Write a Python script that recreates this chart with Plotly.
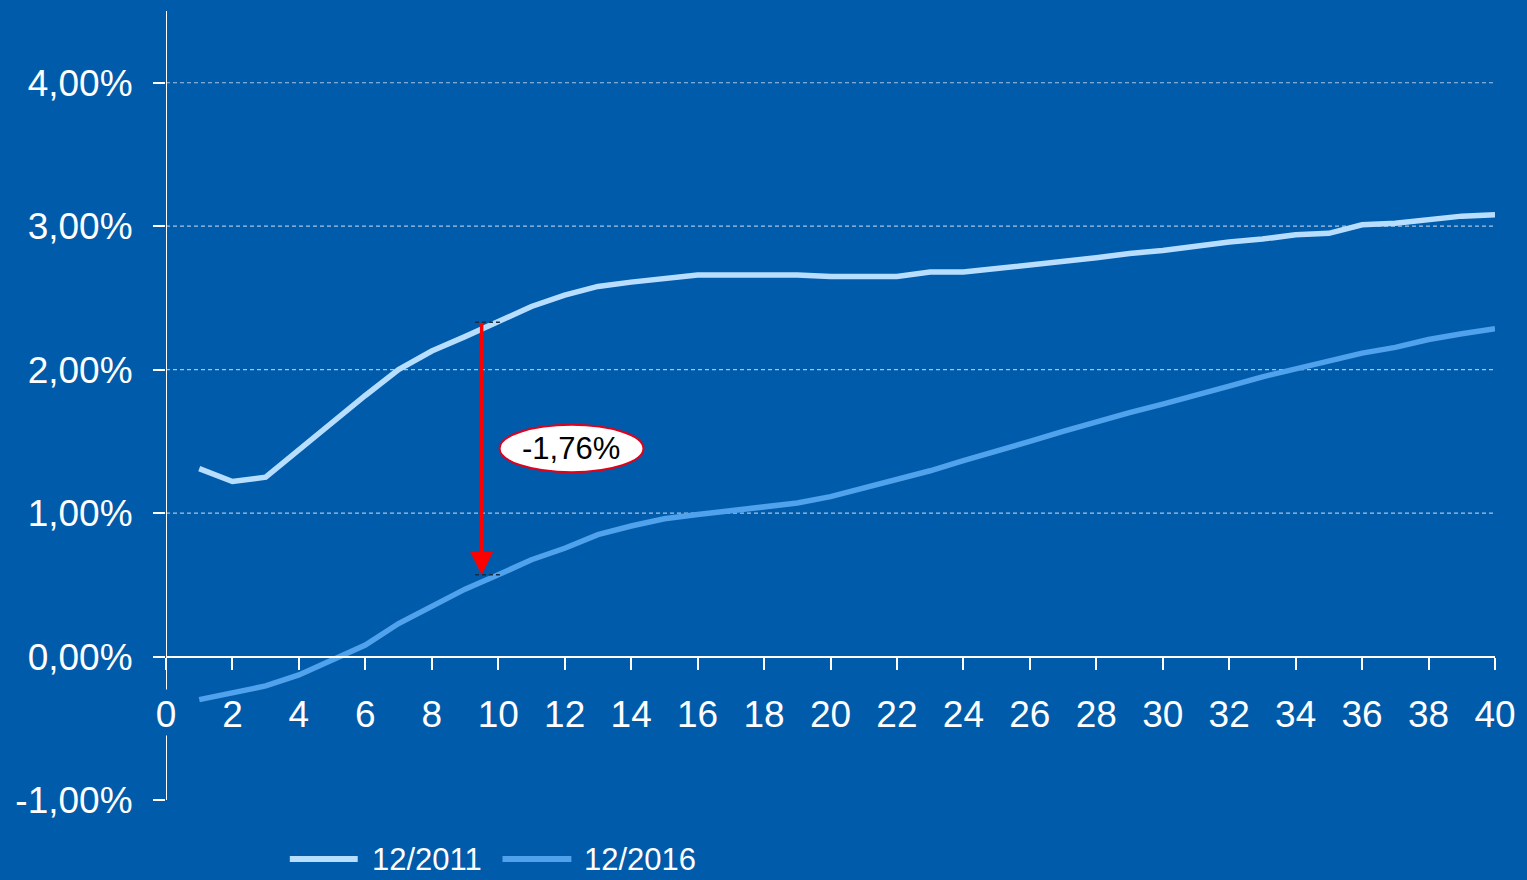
import plotly.graph_objects as go

# ---- data ----
maturities = list(range(1, 41))
curve_2011 = [1.31, 1.22, 1.25, 1.44, 1.64, 1.82, 2.00, 2.13, 2.23, 2.33,
              2.44, 2.52, 2.58, 2.61, 2.635, 2.66, 2.66, 2.66, 2.66, 2.65,
              2.65, 2.65, 2.68, 2.68, 2.705, 2.73, 2.75, 2.78, 2.81, 2.83,
              2.86, 2.89, 2.91, 2.94, 2.95, 3.01, 3.02, 3.045, 3.07, 3.08]
curve_2016 = [-0.30, -0.255, -0.205, -0.128, -0.02, 0.08, 0.23, 0.35, 0.47, 0.57,
              0.675, 0.755, 0.85, 0.91, 0.96, 0.99, 1.015, 1.04, 1.07, 1.115,
              1.175, 1.235, 1.295, 1.365, 1.43, 1.50, 1.57, 1.64, 1.70, 1.76,
              1.82, 1.885, 1.95, 2.005, 2.06, 2.115, 2.155, 2.21, 2.25, 2.285]
series_names = ["12/2011", "12/2016"]
y_tickvals = [-1, 0, 1, 2, 3, 4]
y_ticktext = ["-1,00%", "0,00%", "1,00%", "2,00%", "3,00%", "4,00%"]
x_tickvals = list(range(0, 41, 2))
gap_label = "-1,76%"
gap_x = 9.5
gap_from = 2.33
gap_to = 0.57

BG = "#005BAA"
C2011 = "#B8DEFF"
C2016 = "#4FA2EB"
FONT = "Liberation Sans, Arial, sans-serif"

fig = go.Figure()
fig.add_trace(go.Scatter(x=maturities, y=curve_2011, mode="lines", name=series_names[0],
                         line=dict(color=C2011, width=5.5), showlegend=False))
fig.add_trace(go.Scatter(x=maturities, y=curve_2016, mode="lines", name=series_names[1],
                         line=dict(color=C2016, width=5.5), showlegend=False))

shapes = []
# dashed grid lines
for v in y_tickvals:
    if v > 0:
        shapes.append(dict(type="line", xref="x", yref="y", x0=0, x1=40, y0=v, y1=v,
                           line=dict(color="#A9C3E3", width=1.2, dash="4px,3px"), layer="below"))
# y axis line (interrupted by x tick labels)
shapes.append(dict(type="line", xref="x", yref="y", x0=0, x1=0, y0=-0.23, y1=4.5,
                   line=dict(color="white", width=2)))
shapes.append(dict(type="line", xref="x", yref="y", x0=0, x1=0, y0=-1, y1=-0.55,
                   line=dict(color="white", width=2)))
# small dark dashed marks at arrow ends
for v in (gap_from, gap_to):
    shapes.append(dict(type="line", xref="x", yref="y", x0=gap_x - 0.2, x1=gap_x + 0.55, y0=v, y1=v,
                       line=dict(color="#1A2A40", width=1.5, dash="4px,3px")))
# ellipse around label
shapes.append(dict(type="circle", xref="x", yref="y", x0=10.04, x1=14.37, y0=1.285, y1=1.615,
                   fillcolor="white", line=dict(color="#E0001B", width=2)))

# manual legend
leg_y = (800 - 859) / 789
shapes.append(dict(type="line", xref="paper", yref="paper", x0=(290 - 166) / 1331, x1=(358 - 166) / 1331,
                   y0=leg_y, y1=leg_y, line=dict(color=C2011, width=6)))
shapes.append(dict(type="line", xref="paper", yref="paper", x0=(503 - 166) / 1331, x1=(572 - 166) / 1331,
                   y0=leg_y, y1=leg_y, line=dict(color=C2016, width=6)))

leg_text_y = (800 - 879) / 789
annotations = [
    dict(x=gap_x, y=gap_to, ax=gap_x, ay=gap_from, xref="x", yref="y", axref="x", ayref="y",
         showarrow=True, arrowhead=2, arrowsize=1.3, arrowwidth=3.5, arrowcolor="#FF0000", text=""),
    dict(x=12.2, y=1.45, xref="x", yref="y", text=gap_label, showarrow=False,
         font=dict(family=FONT, size=31, color="black")),
    dict(x=(370 - 166) / 1331, y=leg_text_y, xref="paper", yref="paper", xanchor="left", yanchor="bottom",
         text=series_names[0], showarrow=False, font=dict(family=FONT, size=31, color="white")),
    dict(x=(583 - 166) / 1331, y=leg_text_y, xref="paper", yref="paper", xanchor="left", yanchor="bottom",
         text=series_names[1], showarrow=False, font=dict(family=FONT, size=31, color="white")),
]

fig.update_layout(
    width=1527, height=880,
    margin=dict(l=166, r=30, t=11, b=80),
    paper_bgcolor=BG, plot_bgcolor=BG,
    showlegend=False,
    shapes=shapes, annotations=annotations,
    xaxis=dict(range=[0, 40], tickvals=x_tickvals, ticktext=[str(v) for v in x_tickvals],
               showgrid=False, zeroline=False, showline=True, linecolor="white", linewidth=2,
               ticks="outside", ticklen=12, tickwidth=2, tickcolor="white",
               anchor="free", position=1 / 5.5, ticklabelstandoff=13,
               tickfont=dict(family=FONT, size=37, color="white")),
    yaxis=dict(range=[-1, 4.5], tickvals=y_tickvals, ticktext=y_ticktext,
               showgrid=False, zeroline=False, showline=False,
               ticks="outside", ticklen=12, tickwidth=2, tickcolor="white",
               ticklabelstandoff=13,
               tickfont=dict(family=FONT, size=37, color="white")),
)

fig.write_html("out.html")
